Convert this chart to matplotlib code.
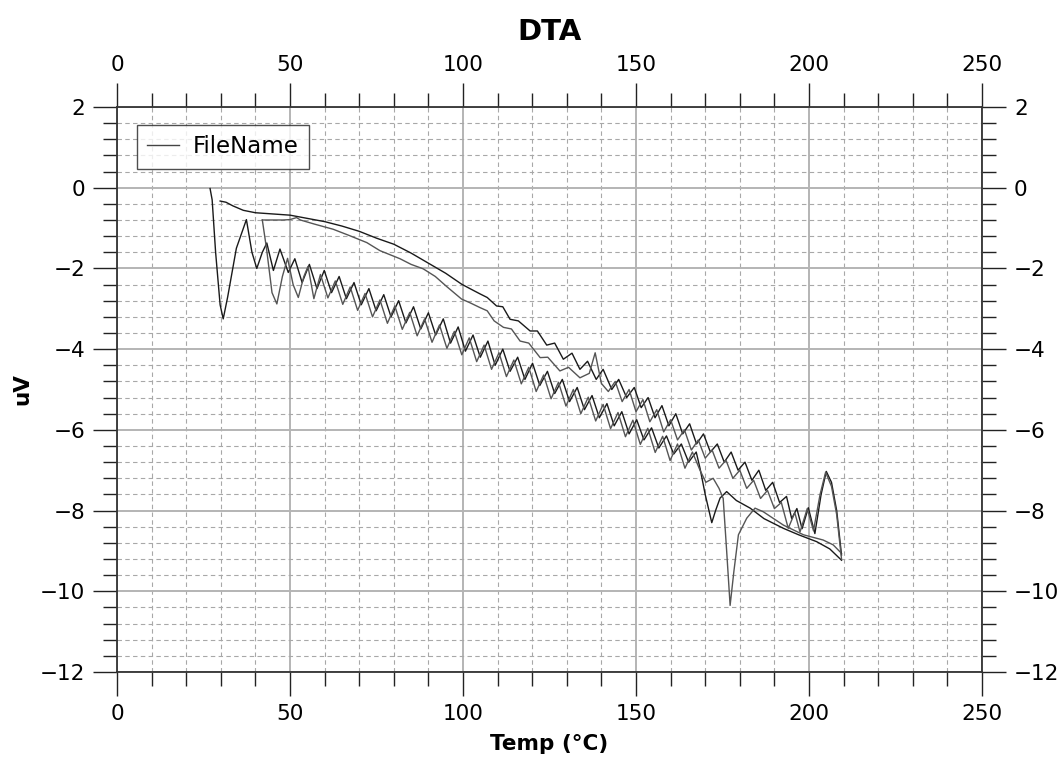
import matplotlib
matplotlib.use("Agg")
import matplotlib.pyplot as plt
from matplotlib.ticker import MultipleLocator, FuncFormatter

# ---- data (Temp degC, uV) ----
t_a = [26.9, 27.5, 28.5, 29.8, 30.7, 32.0, 34.5, 37.4, 39.0, 40.4, 42.0, 43.3, 45.2, 47.1, 49.5, 51.4,
       53.5, 55.6, 57.8, 59.9, 62.0, 64.2, 66.3, 68.5, 70.6, 72.8, 74.9, 77.1, 79.2, 81.4, 83.5, 85.7,
       87.8, 90.0, 92.1, 94.3, 96.4, 98.6, 100.7, 102.9, 105.0, 107.2, 109.3, 111.5, 113.6, 115.8,
       117.9, 120.1, 122.2, 124.4, 126.5, 128.7, 130.8, 133.0, 135.1, 137.3, 139.4, 141.6, 143.7,
       145.9, 148.0, 150.2, 152.3, 154.5, 156.6, 158.8, 160.9, 163.1, 165.2, 167.4, 168.5, 170.0,
       171.9, 173.0, 174.3, 176.2, 179.0, 183.0, 187.0, 192.6, 197.0, 202.2, 206.0, 209.4]
v_a = [-0.02, -0.3, -1.6, -2.9, -3.25, -2.7, -1.5, -0.79, -1.6, -2.0, -1.6, -1.37, -2.05, -1.52, -2.1, -1.76,
       -2.35, -1.9, -2.5, -2.05, -2.6, -2.2, -2.75, -2.35, -2.9, -2.5, -3.05, -2.65, -3.2, -2.8, -3.35, -2.95,
       -3.5, -3.1, -3.65, -3.25, -3.85, -3.45, -4.05, -3.65, -4.2, -3.8, -4.4, -4.0, -4.55, -4.2,
       -4.75, -4.35, -4.9, -4.55, -5.1, -4.75, -5.3, -4.95, -5.5, -5.15, -5.7, -5.35, -5.9,
       -5.55, -6.1, -5.75, -6.25, -5.95, -6.45, -6.15, -6.6, -6.35, -6.8, -6.55, -6.95, -7.6,
       -8.3, -8.0, -7.69, -7.53, -7.75, -7.94, -8.2, -8.44, -8.6, -8.77, -8.95, -9.23]

t_b = [42.0, 43.2, 44.8, 46.2, 47.8, 49.3, 50.9, 52.4, 54.0, 55.2, 56.9, 58.8, 60.95, 63.1, 65.25, 67.4,
       69.55, 71.7, 73.85, 76.0, 78.15, 80.3, 82.45, 84.6, 86.75, 88.9, 91.05, 93.2, 95.35, 97.5, 99.65,
       101.8, 103.95, 106.1, 108.25, 110.4, 112.55, 114.7, 116.85, 119.0, 121.15, 123.3, 125.45, 127.6,
       129.75, 131.9, 134.05, 136.2, 138.35, 140.5, 142.65, 144.8, 146.95, 149.1, 151.25, 153.4,
       155.55, 157.7, 159.85, 162.0, 164.15, 166.3, 168.5, 170.2, 172.3, 174.0, 175.2, 176.2, 177.2,
       178.3, 179.6, 182.0, 184.4, 186.8, 192.6, 198.4, 204.1, 207.0, 209.4]
v_b = [-0.8, -1.5, -2.6, -2.88, -2.2, -1.75, -2.4, -2.72, -2.2, -1.95, -2.75, -2.15, -2.73, -2.31, -2.89,
       -2.46, -3.04, -2.62, -3.2, -2.78, -3.36, -2.93, -3.51, -3.09, -3.67, -3.25, -3.83, -3.4, -3.98,
       -3.56, -4.14, -3.72, -4.31, -3.9, -4.5, -4.09, -4.68, -4.27, -4.86, -4.45, -5.05, -4.64, -5.23,
       -4.82, -5.41, -5.0, -5.6, -5.19, -5.78, -5.37, -5.97, -5.57, -6.17, -5.76, -6.36, -5.96,
       -6.56, -6.16, -6.76, -6.35, -6.95, -6.55, -7.0, -7.3, -7.2, -7.45, -7.7, -9.0, -10.35,
       -9.5, -8.6, -8.19, -7.94, -8.03, -8.36, -8.6, -8.73, -8.85, -9.06]

t_c = [29.8, 31.5, 33.5, 36.5, 40.0, 45.0, 50.0, 55.0, 60.0, 65.0, 70.0, 75.0, 80.0, 85.0, 90.0, 95.0,
       99.6, 102.0, 104.9, 107.0, 109.7, 111.5, 113.6, 116.0, 119.4, 121.5, 124.2, 126.5, 129.0, 131.5,
       133.8, 136.0, 138.5, 140.5, 143.0, 145.0, 147.3, 149.5, 151.5, 153.5, 155.5, 157.5, 159.5,
       161.5, 163.5, 165.5, 167.5, 169.5, 171.5, 173.5, 175.5, 177.5, 179.5, 181.5, 183.5, 185.5,
       187.5, 189.5, 191.5, 193.5, 195.0, 196.5, 198.0, 199.8, 201.7, 203.5, 205.0, 206.5, 208.0, 209.4]
v_c = [-0.33, -0.36, -0.45, -0.56, -0.62, -0.65, -0.68, -0.76, -0.84, -0.95, -1.08, -1.25, -1.4, -1.62,
       -1.87, -2.12, -2.39, -2.5, -2.63, -2.72, -2.93, -2.95, -3.26, -3.3, -3.55, -3.55, -3.9, -3.85, -4.25,
       -4.1, -4.5, -4.3, -4.75, -4.5, -5.0, -4.75, -5.2, -4.95, -5.45, -5.2, -5.7, -5.4, -5.9,
       -5.6, -6.1, -5.85, -6.35, -6.1, -6.55, -6.35, -6.8, -6.55, -7.0, -6.8, -7.25, -7.0,
       -7.5, -7.3, -7.8, -7.65, -8.2, -7.95, -8.45, -7.93, -8.57, -7.6, -7.03, -7.3, -8.0, -9.1]

t_d = [42.0, 45.0, 48.0, 50.0, 51.9, 53.0, 57.0, 62.5, 67.0, 72.2, 76.0, 81.8, 85.0, 88.5, 92.0, 95.3,
       99.6, 102.0, 104.9, 107.0, 109.0, 111.7, 114.0, 116.5, 119.0, 122.3, 124.5, 128.0, 130.5, 133.8,
       136.5, 138.2, 140.0, 142.0, 144.0, 146.0, 148.0, 150.0, 152.0, 154.0, 156.0, 158.0, 160.0,
       162.0, 164.0, 166.0, 168.0, 170.0, 172.0, 174.0, 176.0, 178.0, 180.0, 182.0, 184.0, 186.0,
       188.0, 190.0, 192.0, 194.0, 195.9, 197.4, 199.5, 201.3, 203.2, 204.8, 206.5, 208.0, 209.4]
v_d = [-0.8, -0.8, -0.8, -0.79, -0.74, -0.8, -0.9, -1.03, -1.18, -1.36, -1.56, -1.76, -1.9, -2.01, -2.2,
       -2.45, -2.76, -2.85, -2.97, -3.05, -3.3, -3.46, -3.5, -3.8, -3.85, -4.21, -4.2, -4.54, -4.45, -4.71,
       -4.6, -4.09, -4.85, -5.05, -4.8, -5.3, -5.0, -5.55, -5.25, -5.8, -5.5, -6.05, -5.75,
       -6.25, -6.0, -6.5, -6.25, -6.7, -6.5, -6.95, -6.75, -7.2, -7.0, -7.45, -7.25, -7.7,
       -7.5, -7.95, -7.8, -8.44, -8.05, -8.53, -7.95, -8.5, -7.6, -7.05, -7.4, -8.1, -9.2]

title = "DTA"
xlabel = "Temp (°C)"
ylabel = "uV"
legend_label = "FileName"

plt.rcParams['font.family'] = ['DejaVu Sans']
fig = plt.figure(figsize=(10.61, 7.6), dpi=100)
ax = fig.add_axes([117/1061, 1-672/760, 865/1061, 565/760])

ax.plot(t_a, v_a, color='#1a1a1a', lw=1.0, label=legend_label)
ax.plot(t_b, v_b, color='#555555', lw=1.0)
ax.plot(t_c, v_c, color='#1a1a1a', lw=1.0)
ax.plot(t_d, v_d, color='#555555', lw=1.0)

ax.set_xlim(0, 250)
ax.set_ylim(-12, 2)
ax.xaxis.set_major_locator(MultipleLocator(50))
ax.xaxis.set_minor_locator(MultipleLocator(10))
ax.yaxis.set_major_locator(MultipleLocator(2))
ax.yaxis.set_minor_locator(MultipleLocator(0.4))
fmt = FuncFormatter(lambda v, p: f"{v:.0f}".replace('-', '\u2212'))
ax.xaxis.set_major_formatter(fmt)
ax.yaxis.set_major_formatter(fmt)

ax.grid(which='major', color='#b4b4b4', lw=1.4, ls='-')
ax.grid(which='minor', color='#a8a8a8', lw=0.8, ls=(0, (4, 3)))
ax.set_axisbelow(True)

ax.tick_params(which='major', direction='out', length=17, width=1.0, color='#222222',
               labelsize=15.5, top=True, right=True, labeltop=True, labelright=True, pad=6)
ax.tick_params(which='minor', direction='out', length=10, width=1.0, color='#222222',
               top=True, right=True)
for s in ax.spines.values():
    s.set_color('#333333')
    s.set_linewidth(1.3)

ax.set_title(title, fontsize=21, fontweight='bold', pad=48,
             family=['Liberation Sans Narrow', 'DejaVu Sans'])
ax.set_xlabel(xlabel, fontsize=15.5, fontweight='bold', labelpad=7)
ax.set_ylabel(ylabel, fontsize=15.5, fontweight='bold', labelpad=5)

leg = ax.legend(loc='upper left', bbox_to_anchor=(0.023, 0.968), borderaxespad=0,
                fontsize=16.5, frameon=True, fancybox=False, handlelength=1.4,
                borderpad=0.45, handletextpad=0.6)
leg.get_frame().set_edgecolor('#222222')
leg.get_frame().set_linewidth(1.0)
leg.get_lines()[0].set_color('#444444')

fig.savefig('out.png', dpi=100)
